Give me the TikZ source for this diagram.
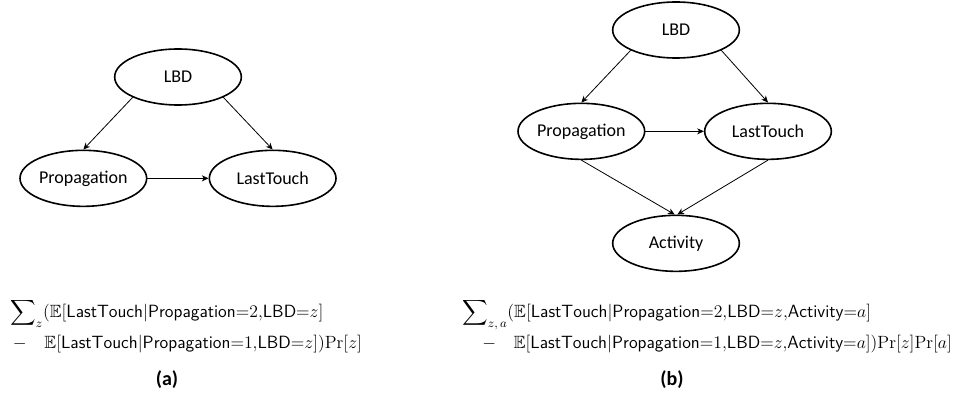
\RequirePackage{fix-cm}
\documentclass[tikz,border=0pt]{standalone}
\usepackage{amssymb}
\usepackage{fontspec}
\newfontfamily\calibri{Carlito}
\usetikzlibrary{arrows.meta,positioning,shapes.geometric}

\tikzset{
  var/.style={ellipse,draw,line width=1.2pt,minimum width=95pt,minimum height=42pt,
    inner sep=0pt,font=\calibri\fontsize{13.5}{15}\selectfont},
  causal/.style={-{Stealth[length=5pt,width=4.5pt,inset=1.5pt]},line width=0.6pt},
  formula/.style={align=left,anchor=base west,inner sep=0pt,
    font=\fontsize{13.3}{20}\selectfont},
  caption/.style={inner sep=0pt,font=\calibri\bfseries\fontsize{15}{18}\selectfont}
}
\newcommand{\Prb}{\mathrm{Pr}}

\begin{document}
\begin{tikzpicture}[x=0.75pt,y=0.75pt,node distance=2cm,on grid]
\useasboundingbox (0,0) rectangle (962,-399);

% (a) without activity
\node[var] (LBD) at (178,-77) {LBD};
\node[var] (Prop) [below left=76pt and 71pt of LBD] {Propagation};
\node[var] (Last) [right=142pt of Prop] {LastTouch};

\path[causal] (LBD.south west) edge (Prop.north)
              (LBD.south east) edge (Last.north)
              (Prop.east) edge (Last.west);

\node[formula] (fa) at (10,-348)
  {$\displaystyle\sum\nolimits_z(\mathbb{E}[\mathsf{LastTouch}|\mathsf{Propagation}{=}2{,}\mathsf{LBD}{=}z]$\\[3pt]
   \hspace*{2pt}$-\quad\mathbb{E}[\mathsf{LastTouch}|\mathsf{Propagation}{=}1{,}\mathsf{LBD}{=}z])\Prb[z]$};
\node[caption] (capa) at (167,-380) {(a)};

% (b) with activity
\node[var] (LBDb) at (676,-30) {LBD};
\node[var] (Propb) [below left=76pt and 71pt of LBDb] {Propagation};
\node[var] (Lastb) [right=140pt of Propb] {LastTouch};
\node[var] (Act) [below=160pt of LBDb] {Activity};

\path[causal] (LBDb.south west) edge (Propb.north)
              (LBDb.south east) edge (Lastb.north)
              (Propb.east) edge (Lastb.west)
              (Propb.south) edge ([xshift=-1pt]Act.north)
              (Lastb.south) edge ([xshift=1pt]Act.north);

\node[formula] (fb) at (462,-348)
  {$\displaystyle\sum\nolimits_{z,\,a}(\mathbb{E}[\mathsf{LastTouch}|\mathsf{Propagation}{=}2{,}\mathsf{LBD}{=}z{,}\mathsf{Activity}{=}a]$\\[3pt]
   \hspace*{15pt}$-\quad\mathbb{E}[\mathsf{LastTouch}|\mathsf{Propagation}{=}1{,}\mathsf{LBD}{=}z{,}\mathsf{Activity}{=}a])\Prb[z]\Prb[a]$};
\node[caption] (capb) at (672,-380) {(b)};
\end{tikzpicture}
\end{document}
